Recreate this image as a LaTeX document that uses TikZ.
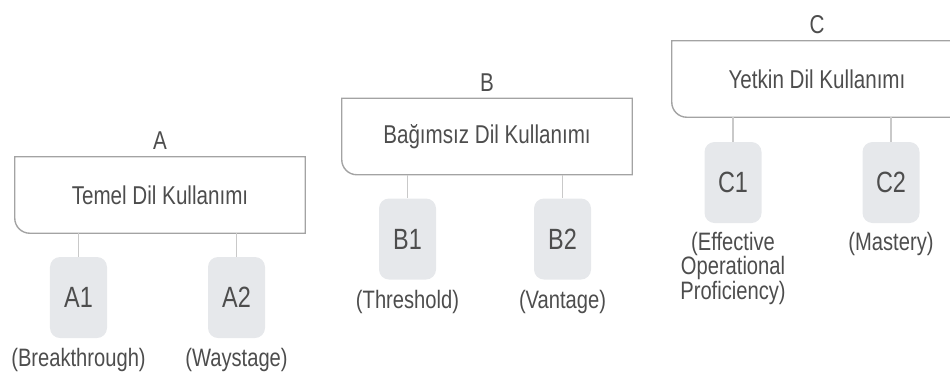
\documentclass[tikz,border=0pt]{standalone}
\usepackage{fontspec}
\setmainfont{Liberation Sans}[FakeStretch=0.8]
\usepackage{xcolor}
\usepackage{tikz}
\usetikzlibrary{positioning}
\usetikzlibrary{calc}
\definecolor{txtgray}{HTML}{4D4D4D}
\definecolor{boxgray}{HTML}{A3A3A3}
\definecolor{stemgray}{HTML}{C9C9C9}
\definecolor{lvlfill}{HTML}{E6E8EB}
\newcommand{\hdrfont}{\fontsize{22}{26}\selectfont}
\newcommand{\lvlfont}{\fontsize{25}{29}\selectfont}
\newcommand{\descrfont}{\fontsize{21.5}{19.6}\selectfont}
\tikzstyle{header}=[rectangle,minimum width=8.7cm,minimum height=2.28cm,inner sep=0pt,font=\hdrfont,text=txtgray]
\tikzstyle{level}=[rectangle,rounded corners=0.3cm,fill=lvlfill,minimum width=1.71cm,minimum height=2.43cm,inner sep=0pt,font=\lvlfont,text=txtgray]
\tikzstyle{stem} = [draw,line width=1.3pt,stemgray]
\tikzstyle{outline} = [draw,line width=1.2pt,boxgray]
\tikzset{descr/.style={align=center,inner sep=0pt,font=\descrfont,text=txtgray}}
\tikzset{toplabel/.style={inner sep=0pt,font=\hdrfont,text=txtgray}}

\begin{document}
\begin{tikzpicture}[x=0.03cm,y=-0.03cm]

   \clip (0,0) rectangle (950,385);

  \foreach \x/\y/\name/\label in {160/195/hA/Temel Dil Kullanımı, 487/136.5/hB/Bağımsız Dil Kullanımı, 817/79/hC/Yetkin Dil Kullanımı}
  {
     \node[header] (\name) at (\x,\y) {\label};
     \draw[outline] (\name.north west) -- (\name.north east) -- (\name.south east) -- ([xshift=0.45cm]\name.south west) arc[start angle=270,end angle=180,radius=0.45cm] -- cycle;
  }

   \node[toplabel, above=0.2cm of hA] (tA) {A};
   \node[toplabel, above=0.2cm of hB] (tB) {B};
   \node[toplabel, above=0.2cm of hC] (tC) {C};

  \foreach \x/\y/\name/\label in {78.5/297.5/A1/A1, 236.5/297.5/A2/A2, 407.5/239/B1/B1, 562.5/239/B2/B2, 733/182.5/C1/C1, 891/182.5/C2/C2}
          \node[level] (\name) at (\x, \y) {\label};

  \foreach \source/ \dest in {hA/A1,hA/A2,hB/B1,hB/B2,hC/C1,hC/C2}
         \path[stem] (\dest.north |- \source.south) -- (\dest.north);

   \node[descr, below=0.3cm of A1] (dA1) {(Breakthrough)};
   \node[descr, below=0.3cm of A2] (dA2) {(Waystage)};
   \node[descr, below=0.3cm of B1] (dB1) {(Threshold)};
   \node[descr, below=0.3cm of B2] (dB2) {(Vantage)};
   \node[descr, below=0.25cm of C1] (dC1) {(Effective\\Operational\\Proficiency)};
   \node[descr, below=0.25cm of C2] (dC2) {(Mastery)};

   \end{tikzpicture}
\end{document}
